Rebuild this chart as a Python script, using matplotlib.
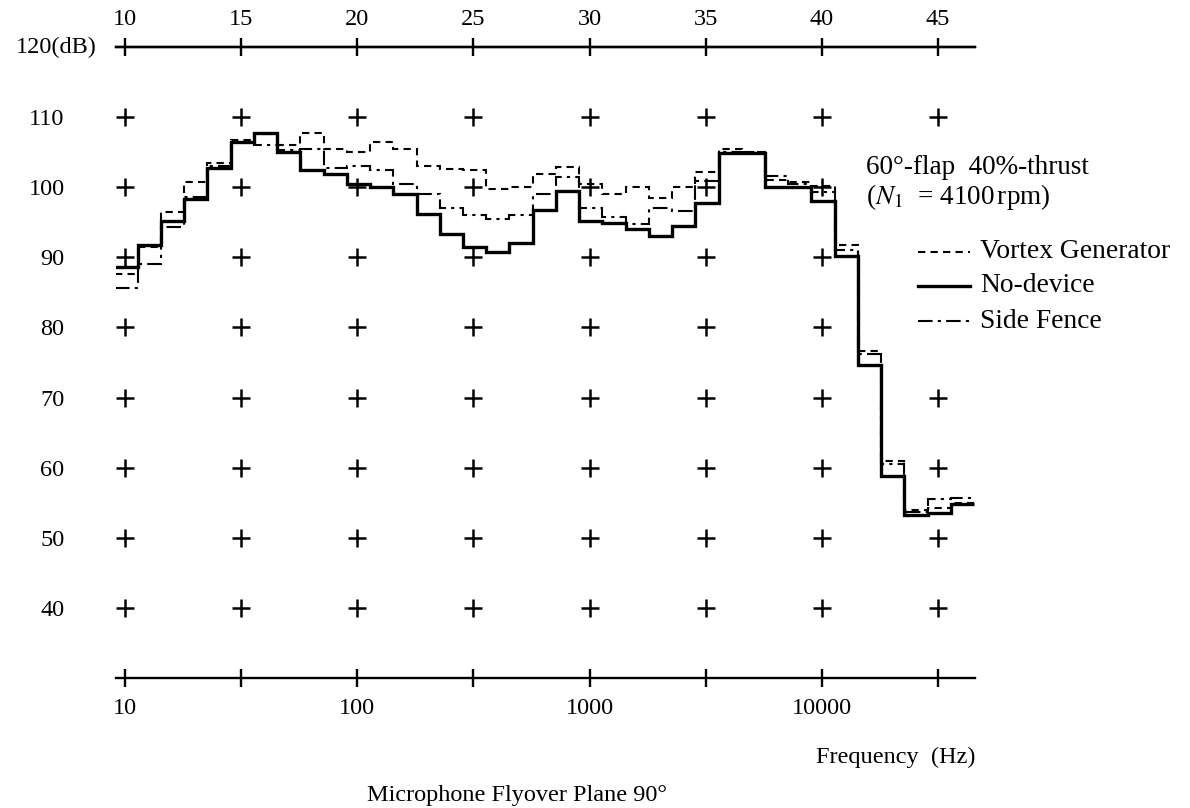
import numpy as np
import matplotlib
matplotlib.use("Agg")
import matplotlib.pyplot as plt
from matplotlib.lines import Line2D

plt.rcParams["font.family"] = ["Liberation Serif", "DejaVu Serif"]
plt.rcParams["mathtext.fontset"] = "stix"

# 1/3-octave band numbers (centre frequency = 10**(band/10) Hz)
bands = np.arange(10, 47)

# Band levels in dB
no_device = [88.6, 91.7, 95.2, 98.3, 102.8, 106.5, 107.8, 105.0, 102.5, 101.9,
             100.5, 100.0, 99.0, 96.2, 93.3, 91.5, 90.7, 92.1, 96.8, 99.5,
             95.2, 94.9, 94.0, 93.1, 94.5, 97.7, 104.9, 104.9, 100.1, 100.0,
             98.1, 90.2, 74.6, 58.8, 53.3, 53.6, 54.8]
vortex_gen = [87.6, 91.5, 96.4, 100.7, 103.5, 106.8, 107.6, 106.0, 107.8, 105.5,
              105.0, 106.4, 105.5, 103.0, 102.6, 102.5, 99.8, 100.0, 101.9, 102.9,
              100.5, 99.0, 100.0, 98.4, 100.0, 102.1, 105.5, 105.0, 101.0, 100.7,
              100.2, 91.7, 76.7, 61.0, 54.0, 54.3, 55.0]
side_fence = [85.6, 89.0, 94.3, 98.6, 103.0, 106.5, 106.0, 105.3, 105.5, 102.8,
              103.0, 102.4, 100.5, 99.1, 97.1, 96.0, 95.5, 96.0, 99.0, 101.4,
              97.1, 95.7, 94.7, 97.1, 96.6, 100.9, 105.0, 105.0, 101.6, 100.4,
              99.3, 91.0, 76.2, 60.5, 53.7, 55.5, 55.7]

top_bands = [10, 15, 20, 25, 30, 35, 40, 45]
bottom_labels = ["10", "", "100", "", "1000", "", "10000", ""]
level_ticks = [40, 50, 60, 70, 80, 90, 100, 110]

W, H = 1190, 808
fig = plt.figure(figsize=(W / 100, H / 100), dpi=100)

# plot frame in pixels: left/right/top/bottom
L, R, T, B = 116, 975, 47, 678
PX_BAND, X10 = 23.23, 125.0
ax = fig.add_axes([L / W, (H - B) / H, (R - L) / W, (B - T) / H])


def band_at(px):
    return 10 + (px - X10) / PX_BAND


ax.set_xscale("log")
ax.set_xlim(10 ** (band_at(L) / 10), 10 ** (band_at(R) / 10))
ax.set_ylim(30, 120)

for s in ("left", "right"):
    ax.spines[s].set_visible(False)
for s in ("top", "bottom"):
    ax.spines[s].set_linewidth(1.7)

col_freqs = [10 ** (b / 10) for b in top_bands]
ax.set_xticks(col_freqs, bottom_labels)
ax.xaxis.set_minor_locator(matplotlib.ticker.NullLocator())
ax.tick_params(axis="x", direction="inout", length=13, width=1.7,
               labelsize=17.5, pad=8)
ax.set_yticks(level_ticks, [str(v) for v in level_ticks])
ax.tick_params(axis="y", length=0, pad=37, labelsize=17.5)

sec = ax.secondary_xaxis("top", functions=(lambda f: 10 * np.log10(f),
                                           lambda b: 10 ** (b / 10)))
sec.set_xticks(top_bands, [str(b) for b in top_bands])
sec.xaxis.set_minor_locator(matplotlib.ticker.NullLocator())
sec.tick_params(direction="inout", length=13, width=1.7, labelsize=17.5, pad=6)
sec.spines["top"].set_linewidth(1.7)

# cross marks on the 10 dB / 5-band lattice
hidden = {(45, 80), (45, 90), (45, 100)}
gx, gy = [], []
for b in top_bands:
    for v in level_ticks:
        if (b, v) not in hidden:
            gx.append(10 ** (b / 10))
            gy.append(v)
ax.plot(gx, gy, ls="none", marker="+", ms=13, mew=1.8, color="black",
        clip_on=False)

# band spectra as stairs
edges = 10 ** (np.append(bands - 0.45, bands[-1] + 0.55) / 10)
vg_style = dict(color="black", lw=1.5, ls=(0, (3.5, 2.5)))
nd_style = dict(color="black", lw=2.4, ls="-")
sf_style = dict(color="black", lw=1.5, ls=(0, (7, 2.5, 1.5, 2.5)))
ax.stairs(vortex_gen, edges, baseline=None, **vg_style)
ax.stairs(side_fence, edges, baseline=None, **sf_style)
ax.stairs(no_device, edges, baseline=None, **nd_style)

fig.text(97 / W, 1 - 47 / H, "120(dB)", ha="right", va="center", fontsize=17.5)

fig.text(866 / W, 1 - 168 / H, "60°-flap  40%-thrust", ha="left",
         va="center", fontsize=19.5)
fig.text(866 / W, 1 - 197 / H, r"($N_1$  = 4100$\,$rpm)", ha="left",
         va="center", fontsize=19.5)

legend_rows = [("Vortex Generator", vg_style, 252),
               ("No-device", nd_style, 286),
               ("Side Fence", sf_style, 321)]
for label, style, y in legend_rows:
    yy = 1 - y / H
    fig.add_artist(Line2D([918 / W, 970 / W], [yy, yy], **style))
    fig.text(980 / W, yy, label, ha="left", va="center", fontsize=19.8)

fig.text(975 / W, 1 - 757 / H, "Frequency  (Hz)", ha="right", va="center",
         fontsize=17.5)
fig.text(517 / W, 1 - 795 / H, "Microphone Flyover Plane 90°", ha="center",
         va="center", fontsize=17.5)

fig.savefig("out.png", dpi=100)
